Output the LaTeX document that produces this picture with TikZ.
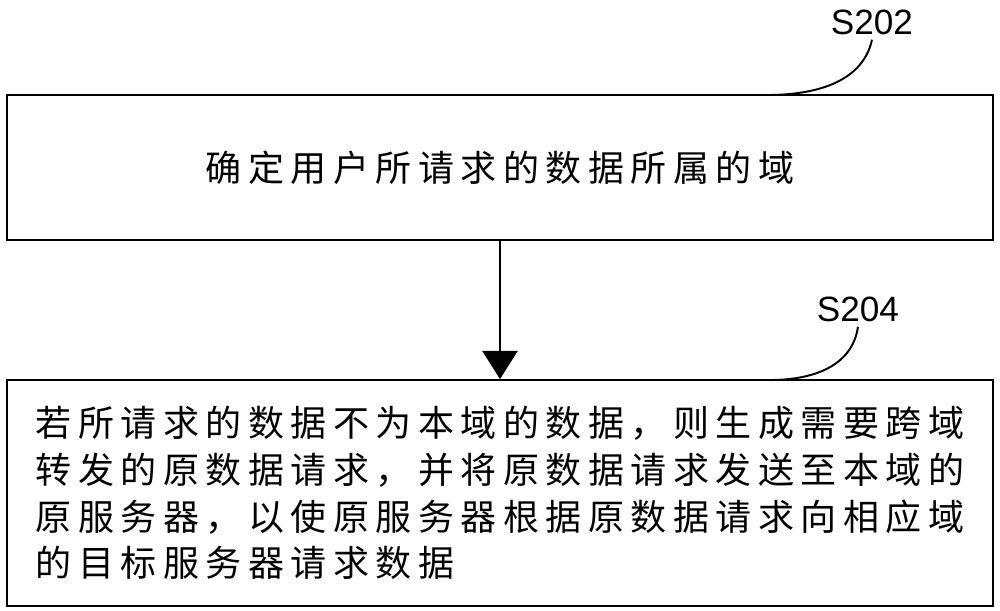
\documentclass[tikz,border=0pt]{standalone}
\usepackage{fontspec}
\setmainfont{Liberation Sans}
\newfontfamily\cjk[LetterSpace=18]{Noto Sans CJK SC}
\usetikzlibrary{arrows.meta}
\tikzset{
  stepbox/.style={draw, line width=1.1pt, minimum width=19.72cm, inner sep=0pt,
    font=\cjk\fontsize{20.5pt}{26.5pt}\selectfont},
  steplabel/.style={font=\fontsize{20pt}{24pt}\selectfont, inner sep=0pt, outer sep=3pt},
  leader/.style={line width=1.1pt}
}
\begin{document}
\begin{tikzpicture}[x=0.02cm, y=-0.02cm]
\useasboundingbox (0,0) rectangle (1000,610);
\node [stepbox, minimum height=2.9cm] (s202) at (500,167.5) {确定用户所请求的数据所属的域};
\node [stepbox, minimum height=4.52cm, align=left] (s204) at (500,493)
  {若所请求的数据不为本域的数据，则生成需要跨域\\
   转发的原数据请求，并将原数据请求发送至本域的\\
   原服务器，以使原服务器根据原数据请求向相应域\\
   的目标服务器请求数据};
\node [steplabel] (l202) at (872,22) {S202};
\node [steplabel] (l204) at (858,309) {S204};
\coordinate (c202) at (767,95);
\coordinate (c204) at (770,380);
\draw [leader] (l202.south) .. controls (862,85) and (810,95) .. (c202);
\draw [leader] (l204.south) .. controls (852,368) and (810,380) .. (c204);
\draw [-{Triangle[width=20pt, length=16pt]}, line width=1.1pt] (s202) -- (s204);
\end{tikzpicture}
\end{document}
